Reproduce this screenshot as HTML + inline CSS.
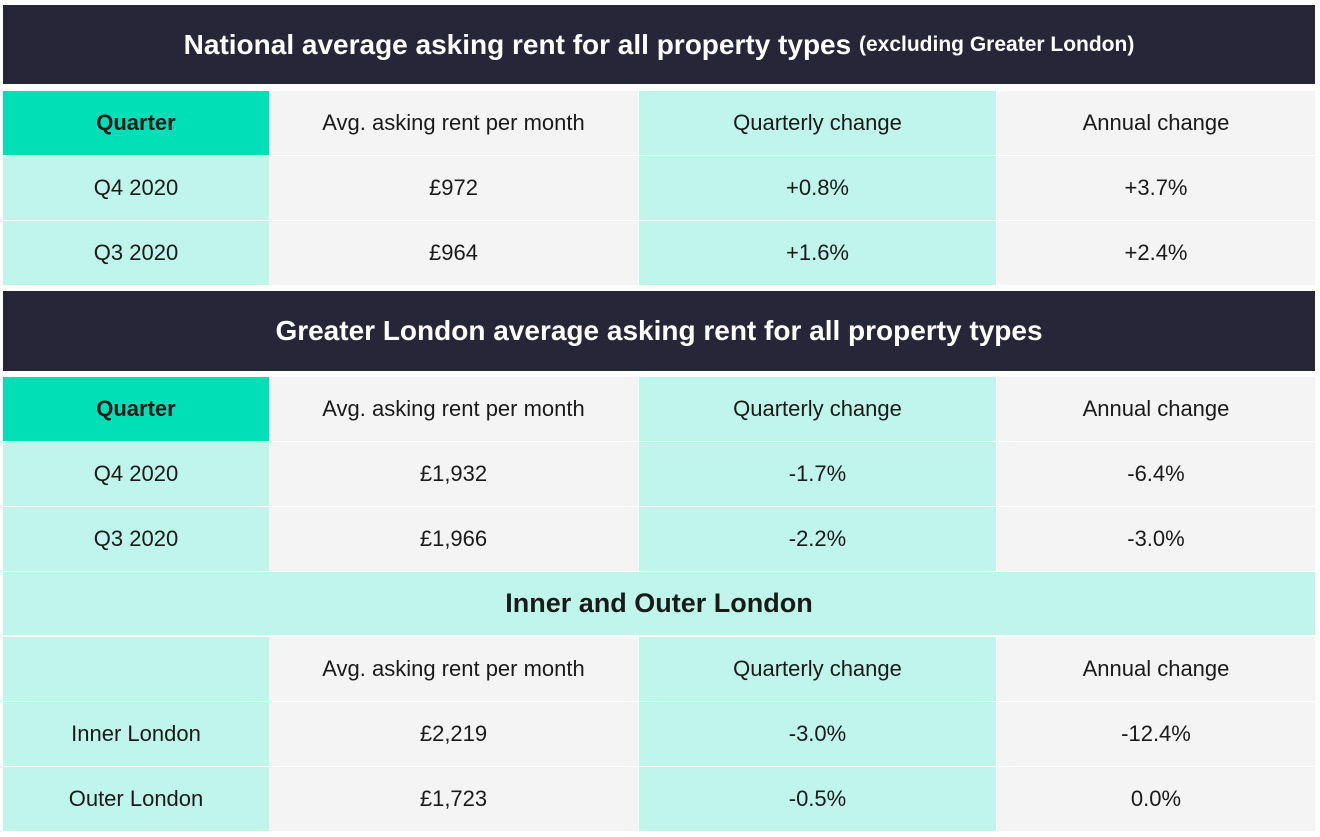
<!DOCTYPE html>
<html><head><meta charset="utf-8"><style>
body{margin:0;width:1320px;height:837px;background:#fff;position:relative;overflow:hidden;font-family:"Liberation Sans",sans-serif;}
.c{position:absolute;display:flex;align-items:center;justify-content:center;font-size:22px;color:#1a1a1a;box-sizing:border-box;}
.dk{background:#272639;color:#fff;font-size:28px;font-weight:bold;}
.tq{background:#00dfb6;font-weight:bold;}
.lt{background:#bff5ea;}
.gy{background:#f4f4f4;}
</style></head><body>
<div class="c dk" style="left:3px;top:5px;width:1312px;height:79px;">National average asking rent for all property types&nbsp;<span style="font-size:21px">(excluding Greater London)</span></div>
<div id="t1"></div>
<div class="c dk" style="left:3px;top:291px;width:1312px;height:80px;">Greater London average asking rent for all property types</div>
<div class="c lt" style="left:3px;top:572px;width:1312px;height:63px;font-size:27px;font-weight:bold;">Inner and Outer London</div>
<script>
const cols=[[3,266],[269,369],[639,357],[997,318]];
const colCls=['lt','gy','lt','gy'];
const header=['Quarter','Avg. asking rent per month','Quarterly change','Annual change'];
const nat=[['Q4 2020','£972','+0.8%','+3.7%'],['Q3 2020','£964','+1.6%','+2.4%']];
const lon=[['Q4 2020','£1,932','-1.7%','-6.4%'],['Q3 2020','£1,966','-2.2%','-3.0%']];
const io=[['Inner London','£2,219','-3.0%','-12.4%'],['Outer London','£1,723','-0.5%','0.0%']];
function row(vals,top,h,hdr,name){
  vals.forEach((v,i)=>{
    const d=document.createElement('div');
    d.className='c '+(hdr&&i===0?'tq':colCls[i]);
    
    
    d.style.left=cols[i][0]+'px';d.style.width=cols[i][1]+'px';
    d.style.top=top+'px';d.style.height=h+'px';
    d.textContent=v;document.body.appendChild(d);
  });
}
row(header,91,64,true,'national-header');
row(nat[0],156,64,false,'national-row');
row(nat[1],221,64,false,'national-row');
row(header,377,64,true,'london-header');
row(lon[0],442,64,false,'london-row');
row(lon[1],507,64,false,'london-row');
row(['',header[1],header[2],header[3]],637,64,false,'inner-outer-header');
row(io[0],702,64,false,'inner-outer-row');
row(io[1],767,64,false,'inner-outer-row');
</script>
</body></html>
